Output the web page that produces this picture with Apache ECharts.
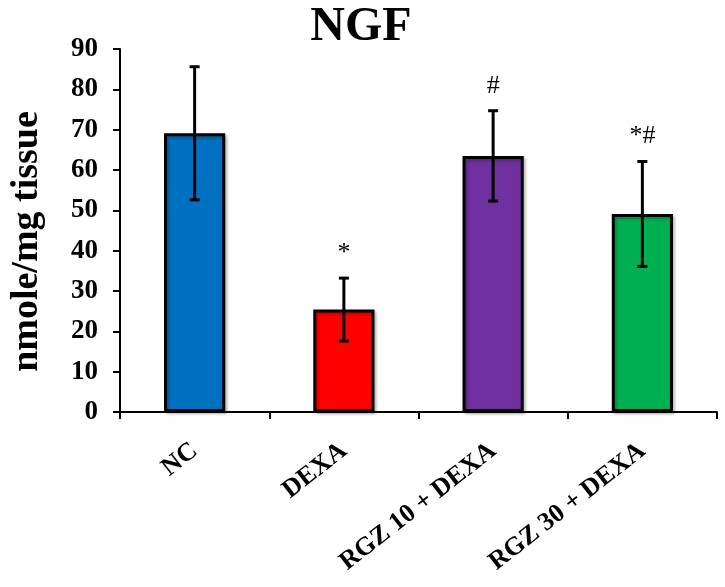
<!DOCTYPE html>
<html>
<head>
<meta charset="utf-8">
<script src="https://cdn.jsdelivr.net/npm/echarts@6/dist/echarts.min.js"></script>
<style>
  html, body { margin: 0; padding: 0; background: #fff; }
  #chart { width: 725px; height: 587px; }
</style>
</head>
<body>
<div id="chart"></div>
<script>
const categories = ["NC", "DEXA", "RGZ 10 + DEXA", "RGZ 30 + DEXA"];
const means = [69.1, 25.4, 63.5, 49.1];
const errors = [16.5, 7.8, 11.2, 13.0];
const annotations = ["", "*", "#", "*#"];
const barColors = ["#0070C0", "#FF0000", "#7030A0", "#00B050"];
const yTicks = [0, 10, 20, 30, 40, 50, 60, 70, 80, 90];

const FONT = "'Liberation Serif', 'Times New Roman', serif";
const chart = echarts.init(document.getElementById('chart'), null, { renderer: 'canvas' });

const errData = means.map((m, i) => [i, m - errors[i], m + errors[i], annotations[i]]);

chart.setOption({
  animation: false,
  backgroundColor: '#ffffff',
  title: {
    text: 'NGF',
    left: 356,
    top: -1,
    textAlign: 'center',
    textStyle: { fontFamily: FONT, fontWeight: 'bold', fontSize: 48, color: '#000' }
  },
  grid: { left: 114, top: 49, width: 603, height: 363, containLabel: false },
  xAxis: {
    type: 'category',
    data: categories,
    axisLine: { lineStyle: { color: '#000', width: 2 } },
    axisTick: { show: true, length: 7, lineStyle: { color: '#000', width: 2 } },
    axisLabel: {
      rotate: 38,
      interval: 0,
      margin: 36,
      fontFamily: FONT,
      fontWeight: 'bold',
      fontSize: 26,
      color: '#000'
    }
  },
  yAxis: {
    type: 'value',
    min: yTicks[0],
    max: yTicks[yTicks.length - 1],
    interval: 10,
    name: 'nmole/mg tissue',
    nameLocation: 'middle',
    nameGap: 74,
    nameTextStyle: { fontFamily: FONT, fontWeight: 'bold', fontSize: 38, color: '#000', padding: [0, 22, 0, 0] },
    splitLine: { show: false },
    axisLine: { show: true, lineStyle: { color: '#000', width: 2 } },
    axisTick: { show: true, length: 7, lineStyle: { color: '#000', width: 2 } },
    axisLabel: {
      margin: 22,
      fontFamily: FONT,
      fontWeight: 'bold',
      fontSize: 27,
      color: '#000'
    }
  },
  series: [
    {
      type: 'bar',
      barWidth: '41%',
      data: means.map((v, i) => ({
        value: v,
        itemStyle: {
          color: barColors[i],
          borderColor: '#000',
          borderWidth: 3,
          shadowColor: 'rgba(0,0,0,0.25)',
          shadowBlur: 3,
          shadowOffsetX: 2,
          shadowOffsetY: 2
        }
      })),
      z: 2
    },
    {
      type: 'custom',
      data: errData,
      z: 5,
      renderItem: function (params, api) {
        const x = api.value(0);
        const lo = api.coord([x, api.value(1)]);
        const hi = api.coord([x, api.value(2)]);
        const cap = 5;
        const style = { stroke: '#000', lineWidth: 3 };
        const children = [
          { type: 'line', shape: { x1: hi[0], y1: hi[1], x2: lo[0], y2: lo[1] }, style: style },
          { type: 'line', shape: { x1: hi[0] - cap, y1: hi[1], x2: hi[0] + cap, y2: hi[1] }, style: style },
          { type: 'line', shape: { x1: lo[0] - cap, y1: lo[1], x2: lo[0] + cap, y2: lo[1] }, style: style }
        ];
        const txt = annotations[params.dataIndex];
        if (txt) {
          children.push({
            type: 'text',
            style: {
              text: txt,
              x: hi[0],
              y: hi[1] - 12,
              textAlign: 'center',
              textVerticalAlign: 'bottom',
              fontFamily: FONT,
              fontSize: 26,
              fill: '#000'
            }
          });
        }
        return { type: 'group', children: children };
      }
    }
  ]
});
</script>
</body>
</html>
